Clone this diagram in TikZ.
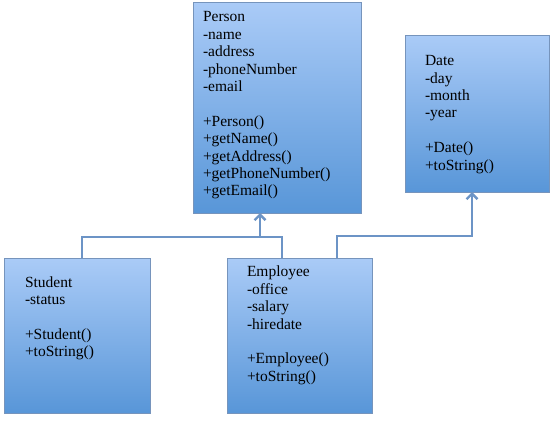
\documentclass[tikz,border=0pt]{standalone}
\usepackage{fontspec}
\setmainfont{Liberation Serif}
\usetikzlibrary{arrows.meta,shadows}
\definecolor{boxtop}{RGB}{170,203,247}
\definecolor{boxbot}{RGB}{88,150,216}
\definecolor{boxline}{RGB}{118,148,188}
\definecolor{connc}{RGB}{108,148,198}
\tikzset{
  umlbox/.style={rectangle, draw=boxline, line width=0.8pt, top color=boxtop, bottom color=boxbot,
    inner sep=0pt, outer sep=0pt, anchor=north west,
    drop shadow={opacity=0.18, shadow xshift=1.2pt, shadow yshift=-1.2pt}},
  umltext/.style={anchor=north west, inner sep=0pt, outer sep=0pt, align=left,
    font=\fontsize{15.5}{17.4}\selectfont},
  conn/.style={draw=connc, line width=2.6pt},
  inh/.style={conn, -{Straight Barb[length=5.5pt,width=11pt,line width=2.4pt]}}
}
\begin{document}
\begin{tikzpicture}[x=1pt,y=-1pt]
\fill[white] (0,0) rectangle (560,423);
\useasboundingbox (0,0) rectangle (560,423);
% boxes
\node[umlbox, minimum width=168pt, minimum height=211pt] (person) at (193,2) {};
\node[umlbox, minimum width=144pt, minimum height=157pt] (date) at (405,35) {};
\node[umlbox, minimum width=146pt, minimum height=155pt] (student) at (4,258) {};
\node[umlbox, minimum width=145pt, minimum height=155pt] (employee) at (227,258) {};
% texts
\node[umltext] (persontext) at (203,9.8) {\strut Person\\\strut -name\\\strut -address\\\strut -phoneNumber\\\strut -email\\\strut \\\strut +Person()\\\strut +getName()\\\strut +getAddress()\\\strut +getPhoneNumber()\\\strut +getEmail()};
\node[umltext] (datetext) at (425,53.5) {\strut Date\\\strut -day\\\strut -month\\\strut -year\\\strut \\\strut +Date()\\\strut +toString()};
\node[umltext] (studenttext) at (25,275) {\strut Student\\\strut -status\\\strut \\\strut +Student()\\\strut +toString()};
\node[umltext] (employeetext) at (247,264.8) {\strut Employee\\\strut -office\\\strut -salary\\\strut -hiredate\\\strut \\\strut +Employee()\\\strut +toString()};
% connector coordinates
\coordinate (busL) at (82,237);
\coordinate (busR) at (282,237);
\coordinate (parr) at (260,237);
\coordinate (eL) at (337,236);
\coordinate (dR) at (472,236);
% connectors
\draw[conn] (student.north -| busL) -- (busL) -- (busR) -- (employee.north -| busR);
\draw[inh] (parr) -- (person.south -| parr);
\draw[inh] (employee.north -| eL) -- (eL) -- (dR) -- (date.south -| dR);
\end{tikzpicture}
\end{document}
